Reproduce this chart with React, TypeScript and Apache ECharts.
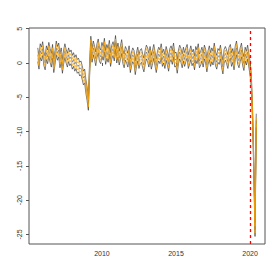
import React, { useEffect, useRef } from "react";
import * as echarts from "echarts";

// Monthly series, starting September 2005
const startYear = 2005;
const startMonth = 9;
const centerValues: number[] = [
  // Sep05 - Aug07
  1.2, 0.1, 1.8, 1.3, 2.1, 0.6, 0.0, 1.5, 0.9, 2.0, 1.1, 0.4,
  1.7, -0.4, 0.8, 2.2, 1.4, 1.9, 0.3, 1.2, -0.5, 0.9, 1.8, 1.0,
  // Sep07 - Aug08
  0.4, 1.2, 0.6, 0.9, 0.1, 0.5, -0.2, 0.2, -0.5, -0.3, -0.9, -0.7,
  // Sep08 - Apr09
  -1.4, -2.2, -1.9, -3.4, -4.5, -5.9, -1.0, 2.9,
  // May09 - Aug11
  1.1, 2.2, 1.5, 0.6, 1.8, 2.5, 1.2, 0.9, 2.0, 1.4, 2.6, 0.8, 1.7, 1.1,
  2.3, 0.5, 1.6, 2.1, 1.3, 3.0, 1.0, 1.9, 0.7, 1.5, 2.4, 0.9, 0.3, 1.4,
  // Sep11 - Aug12
  1.0, 0.4, 1.5, -0.4, 0.6, 1.2, 0.8, -0.7, 0.5, 1.3, 0.2, 0.9,
  // Sep12 - Dec19
  1.1, 0.3, -0.3, 0.8, 1.6, 1.2, 0.4, 1.4, 0.1, 0.9, 1.7, 0.6,
  -0.4, 0.7, 1.3, 0.9, 1.8, 0.5, 1.0, 0.2, 1.4, 0.7, -0.2, 1.1,
  1.5, 0.8, 1.9, 0.4, 0.6, -0.5, 0.9, 1.6, 1.1, 0.3, 1.3, 0.5,
  1.2, 1.7, 0.2, 0.8, 1.5, 0.6, 1.0, 0.0, 1.4, 0.9, 1.8, 0.3,
  0.7, 1.3, 0.4, 1.6, 1.0, -0.3, 0.8, 1.5, 0.5, 1.2, 0.7, 1.9,
  0.6, 0.1, 1.1, 0.8, 1.6, 0.3, -0.6, 1.0, 1.4, 0.9, 0.2, 1.3,
  1.7, 0.5, 1.1, 0.0, 1.5, 2.2, 0.8, 0.3, 1.2, 1.9, 0.6, -0.1,
  1.3, 0.7, 1.6, 0.4,
  // Jan20 - Jun20
  -0.8, -2.6, -7.5, -15.0, -24.3, -8.4,
];

// quantile band offsets around the centre line
const bandOffsets: number[] = [-1.0, -0.5, 0, 0.5, 1.0];
const bandColors: string[] = ["#222222", "#FFA500", "#444444", "#FFA500", "#222222"];
const bandWidths: number[] = [0.6, 0.7, 0.5, 0.7, 0.6];

const xTicks: number[] = [2010, 2015, 2020];
const yTicks: number[] = [-25, -20, -15, -10, -5, 0, 5];
const breakYear = 2020;

export default function App() {
  const ref = useRef<HTMLDivElement>(null);
  useEffect(() => {
    if (!ref.current) return;
    const chart = echarts.init(ref.current, null, { renderer: "svg" });
    const times = centerValues.map((_, i) => startYear + (startMonth - 1 + i) / 12);
    const series: any[] = bandOffsets.map((off, k) => ({
      type: "line",
      showSymbol: false,
      symbol: "none",
      data: centerValues.map((v, i) => [times[i], v + off]),
      lineStyle: { color: bandColors[k], width: bandWidths[k] },
      z: k === 1 || k === 3 ? 3 : 2,
    }));
    series.push({
      type: "line",
      data: [],
      markLine: {
        silent: true,
        symbol: "none",
        label: { show: false },
        lineStyle: { color: "#FF0000", type: [3, 3], width: 1.3 },
        data: [{ xAxis: breakYear }],
      },
    });
    chart.setOption({
      animation: false,
      grid: {
        left: 29,
        right: 15,
        top: 28,
        bottom: 36,
        show: true,
        borderColor: "#555",
        borderWidth: 1,
        backgroundColor: "transparent",
      },
      xAxis: {
        type: "value",
        min: 2005.077,
        max: 2021.007,
        axisLine: { show: false },
        splitLine: { show: false },
        axisTick: {
          show: true,
          customValues: xTicks,
          length: 3,
          lineStyle: { color: "#555" },
        },
        axisLabel: {
          customValues: xTicks,
          formatter: (v: number) => String(v),
          fontSize: 7,
          color: "#333",
          fontFamily: "Liberation Sans",
          margin: 6,
        },
      },
      yAxis: {
        type: "value",
        min: -26.4,
        max: 5.1,
        axisLine: { show: false },
        splitLine: { show: false },
        axisTick: {
          show: true,
          customValues: yTicks,
          length: 3,
          lineStyle: { color: "#555" },
        },
        axisLabel: {
          customValues: yTicks,
          formatter: (v: number) => String(v),
          rotate: 90,
          fontSize: 7,
          color: "#333",
          fontFamily: "Liberation Sans",
          margin: 6,
        },
      },
      series,
    });
    return () => chart.dispose();
  }, []);
  return (
    <div
      ref={ref}
      style={{ position: "fixed", left: 0, top: 0, width: 280, height: 280, background: "#fff" }}
    />
  );
}
